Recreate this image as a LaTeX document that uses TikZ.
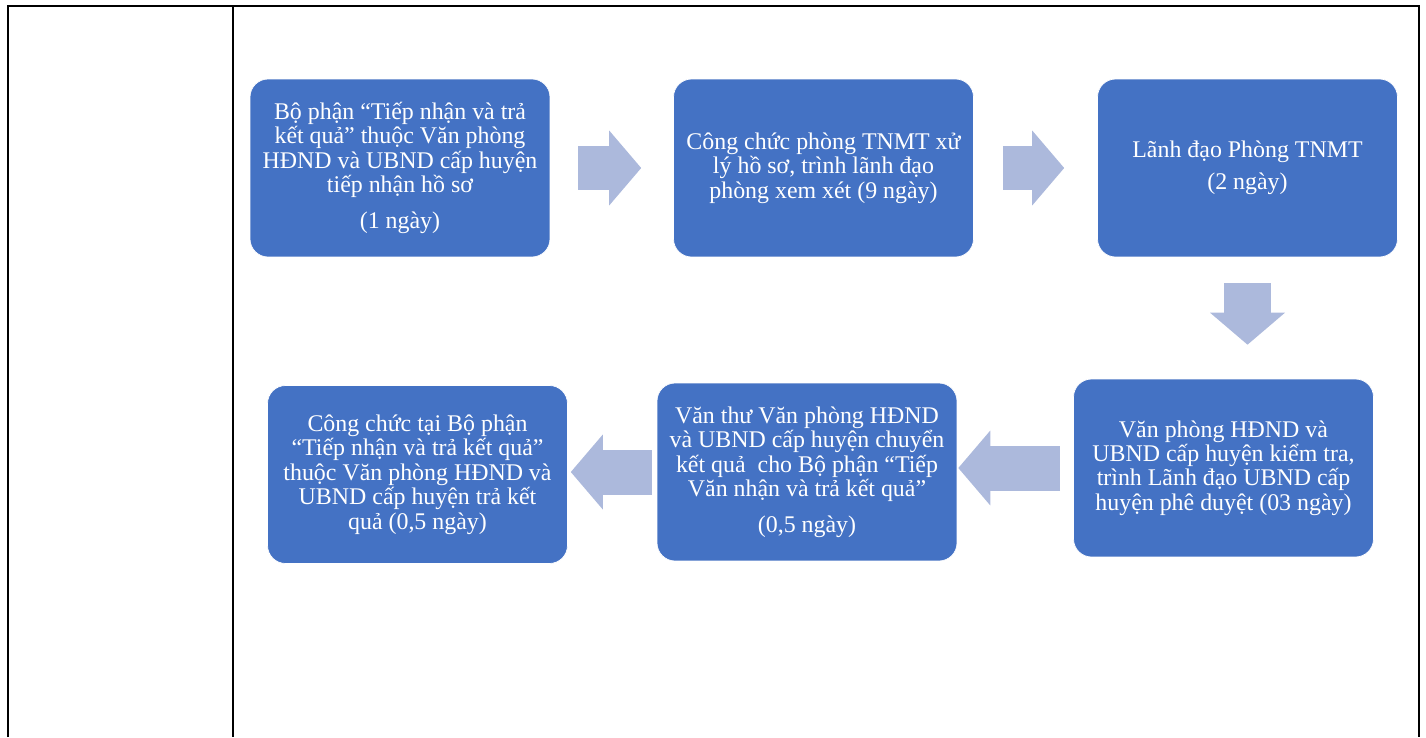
\documentclass[tikz,border=0pt]{standalone}
\usepackage{fontspec}
\setmainfont{Liberation Serif}
\usetikzlibrary{arrows.meta}
\definecolor{boxblue}{HTML}{4472C4}
\definecolor{arrowblue}{HTML}{ACB9DC}
\tikzset{
  stepbox/.style={rectangle, rounded corners=0.36cm, fill=boxblue, draw=white,
    line width=0.4pt, text=white, minimum width=6cm, minimum height=3.56cm,
    inner sep=0pt, align=center, font=\fontsize{13.6}{13.9}\selectfont},
  flow/.style={color=arrowblue, line width=0.9cm,
    -{Triangle[length=0.64cm, width=1.5cm, line width=0pt]}},
  frame/.style={line width=0.055cm}
}
\begin{document}
\begin{tikzpicture}[x=0.02cm, y=-0.02cm]
      \useasboundingbox (0,0) rectangle (1426,737);
      \draw[frame] (8,737) -- (8,6) -- (1419,6) -- (1419,737);
      \draw[frame] (233,6) -- (233,737);
      \draw
        (400,168) node[stepbox] (b1){Bộ phận “Tiếp nhận và trả\\ kết quả” thuộc Văn phòng\\ HĐND và UBND cấp huyện\\ tiếp nhận hồ sơ\\[0.24cm] (1 ngày)}
        (823.5,168) node[stepbox] (b2){Công chức phòng TNMT xử\\ lý hồ sơ, trình lãnh đạo\\ phòng xem xét (9 ngày)}
        (1247.5,168) node[stepbox] (b3){Lãnh đạo Phòng TNMT\\[0.16cm] (2 ngày)}
        (1223.5,468) node[stepbox] (b4){Văn phòng HĐND và\\ UBND cấp huyện kiểm tra,\\ trình Lãnh đạo UBND cấp\\ huyện phê duyệt (03 ngày)}
        (807,472) node[stepbox] (b5){Văn thư Văn phòng HĐND\\ và UBND cấp huyện chuyển\\ kết quả\ \ cho Bộ phận “Tiếp\\ Văn nhận và trả kết quả”\\[0.22cm] (0,5 ngày)}
        (417.5,474.5) node[stepbox] (b6){Công chức tại Bộ phận\\ “Tiếp nhận và trả kết quả”\\ thuộc Văn phòng HĐND và\\ UBND cấp huyện trả kết\\ quả (0,5 ngày)};
      \begin{scope}[flow]
        \draw[shorten <=0.56cm, shorten >=0.64cm] (b1) to (b2);
        \draw[shorten <=0.58cm, shorten >=0.66cm] (b2) to (b3);
        \draw[line width=0.94cm, shorten <=0.52cm, shorten >=0.68cm] (b3) to (b3 |- b4.north);
        \draw[shorten <=0.26cm, shorten >=0.02cm] (b4) to (b4 -| b5.east);
        \draw[shorten <=0.1cm, shorten >=0.06cm] (b5) to (b5 -| b6.east);
      \end{scope}
    \end{tikzpicture}
\end{document}
